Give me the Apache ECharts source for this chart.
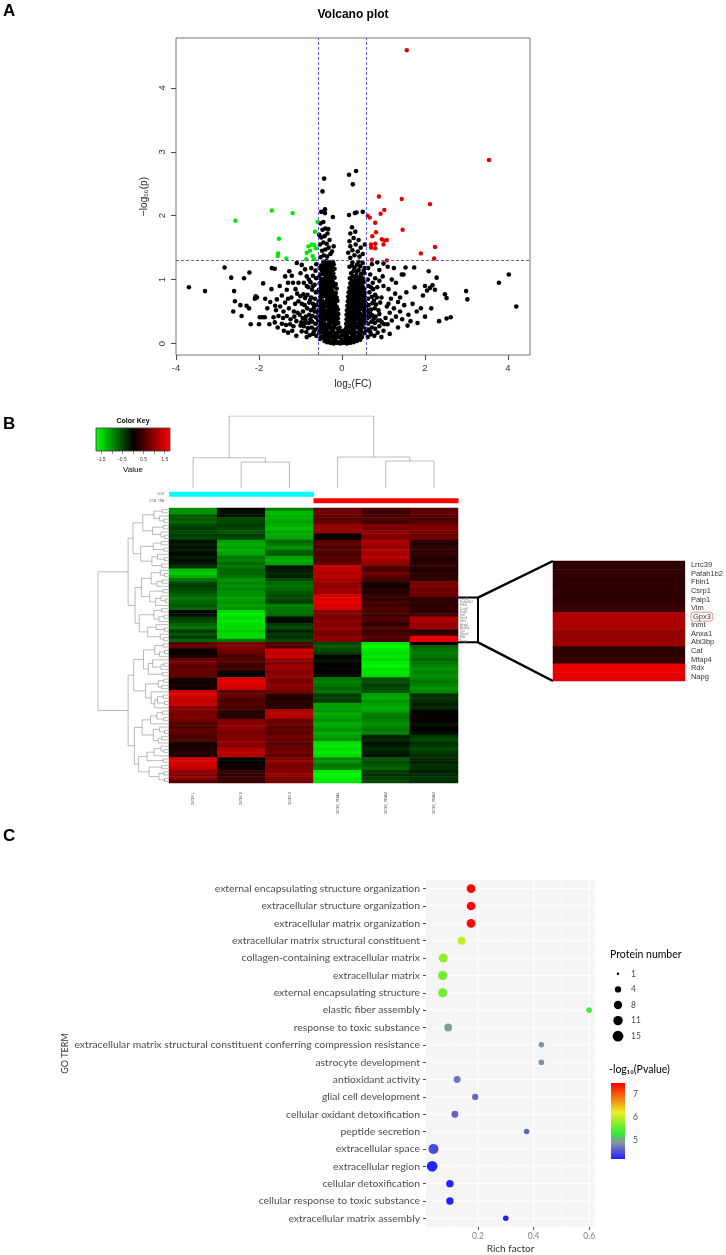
<!DOCTYPE html>
<html>
<head>
<meta charset="utf-8">
<script src="https://cdn.jsdelivr.net/npm/echarts@6/dist/echarts.min.js"></script>
<style>
  html, body { margin: 0; padding: 0; background: #fff; }
  #vis { width: 726px; height: 1255px; }
</style>
</head>
<body>
<div id="vis"></div>
<script>
// ---------- A: volcano plot (log2 FC, -log10 p) ----------
const volcanoUp = [[1.56,4.59],[3.54,2.87],[0.89,2.30],[1.44,2.26],[2.12,2.18],[1.02,2.09],[0.93,2.03],
  [0.62,2.0],[0.67,1.97],[0.8,1.89],[1.46,1.78],[0.82,1.74],[0.73,1.68],[0.96,1.63],[1.02,1.61],[1.08,1.62],
  [0.7,1.55],[0.8,1.56],[1.0,1.55],[0.7,1.5],[0.8,1.49],[2.24,1.51],[1.9,1.41],[2.22,1.33],[0.72,1.31],[1.08,1.3]];
const volcanoDown = [[-2.57,1.92],[-1.69,2.08],[-1.19,2.04],[-1.52,1.64],[-1.54,1.41],[-1.55,1.37],[-1.34,1.33],
  [-0.59,1.9],[-0.65,1.75],[-0.81,1.52],[-0.73,1.55],[-0.67,1.54],[-0.63,1.49],[-0.85,1.42],[-0.71,1.37],
  [-0.67,1.32],[-0.86,1.32],[-0.77,1.45]];
const volcanoCoreLeft = [
  [-0.42,0.04],[-0.33,0.06],[-0.25,0.03],[-0.17,0.05],[-0.09,0.02],
  [-0.5,0.11],[-0.44,0.09],[-0.36,0.12],[-0.29,0.1],[-0.21,0.11],[-0.13,0.09],[-0.05,0.1],
  [-0.55,0.17],[-0.47,0.18],[-0.4,0.16],[-0.32,0.17],[-0.24,0.19],[-0.16,0.16],[-0.08,0.18],
  [-0.57,0.24],[-0.5,0.25],[-0.42,0.23],[-0.35,0.25],[-0.27,0.24],[-0.19,0.26],[-0.11,0.23],[-0.06,0.25],
  [-0.55,0.31],[-0.47,0.32],[-0.39,0.3],[-0.31,0.31],[-0.23,0.33],[-0.15,0.3],[-0.09,0.32],
  [-0.58,0.38],[-0.5,0.39],[-0.42,0.37],[-0.34,0.38],[-0.26,0.4],[-0.18,0.37],[-0.1,0.39],
  [-0.54,0.45],[-0.46,0.46],[-0.38,0.44],[-0.3,0.45],[-0.22,0.47],[-0.14,0.44],[-0.09,0.46],
  [-0.57,0.52],[-0.49,0.53],[-0.41,0.51],[-0.33,0.52],[-0.25,0.54],[-0.17,0.51],[-0.1,0.53],
  [-0.53,0.59],[-0.45,0.6],[-0.37,0.58],[-0.29,0.59],[-0.21,0.61],[-0.13,0.58],
  [-0.56,0.66],[-0.48,0.67],[-0.4,0.65],[-0.32,0.66],[-0.24,0.68],[-0.16,0.65],[-0.11,0.67],
  [-0.52,0.73],[-0.44,0.74],[-0.36,0.72],[-0.28,0.73],[-0.2,0.75],[-0.13,0.72],
  [-0.55,0.8],[-0.47,0.81],[-0.39,0.79],[-0.31,0.8],[-0.23,0.82],[-0.15,0.79],
  [-0.51,0.87],[-0.43,0.88],[-0.35,0.86],[-0.27,0.87],[-0.19,0.89],[-0.13,0.86],
  [-0.54,0.94],[-0.46,0.95],[-0.38,0.93],[-0.3,0.94],[-0.22,0.96],[-0.15,0.93],
  [-0.5,1.01],[-0.42,1.02],[-0.34,1.0],[-0.26,1.01],[-0.18,1.03],
  [-0.53,1.08],[-0.45,1.09],[-0.37,1.07],[-0.29,1.08],[-0.21,1.1],
  [-0.49,1.15],[-0.41,1.16],[-0.33,1.14],[-0.25,1.15],[-0.18,1.17],
  [-0.5,1.22],[-0.42,1.23],[-0.34,1.21],[-0.26,1.22],[-0.2,1.24],
  [-0.45,1.28],[-0.37,1.29],[-0.29,1.27],[-0.22,1.28],
  [-0.46,0.21],[-0.3,0.28],[-0.14,0.35],[-0.52,0.42],[-0.36,0.49],[-0.2,0.56],[-0.44,0.63],
  [-0.28,0.7],[-0.48,0.77],[-0.34,0.84],[-0.2,0.92],[-0.42,0.98],[-0.3,1.05],[-0.46,1.12],[-0.38,1.19],[-0.3,1.25]];
const volcanoCoreRight = [
  [0.05,0.04],[0.12,0.06],[0.2,0.03],[0.28,0.05],[0.36,0.04],[0.44,0.06],
  [0.07,0.11],[0.16,0.09],[0.24,0.11],[0.32,0.1],[0.4,0.12],[0.48,0.1],
  [0.06,0.17],[0.14,0.18],[0.22,0.16],[0.3,0.18],[0.38,0.17],[0.46,0.19],[0.54,0.16],
  [0.1,0.24],[0.17,0.25],[0.25,0.23],[0.33,0.25],[0.41,0.24],[0.49,0.26],[0.57,0.23],
  [0.1,0.31],[0.18,0.32],[0.26,0.3],[0.34,0.31],[0.42,0.33],[0.5,0.3],[0.58,0.32],
  [0.11,0.38],[0.2,0.39],[0.28,0.37],[0.36,0.38],[0.44,0.4],[0.52,0.37],[0.6,0.39],
  [0.11,0.45],[0.19,0.46],[0.27,0.44],[0.35,0.45],[0.43,0.47],[0.51,0.44],[0.58,0.46],
  [0.12,0.52],[0.21,0.53],[0.29,0.51],[0.37,0.52],[0.45,0.54],[0.53,0.51],[0.6,0.53],
  [0.13,0.59],[0.22,0.6],[0.3,0.58],[0.38,0.59],[0.46,0.61],[0.54,0.58],
  [0.14,0.66],[0.23,0.67],[0.31,0.65],[0.39,0.66],[0.47,0.68],[0.55,0.65],
  [0.15,0.73],[0.24,0.74],[0.32,0.72],[0.4,0.73],[0.48,0.75],[0.56,0.72],
  [0.16,0.8],[0.25,0.81],[0.33,0.79],[0.41,0.8],[0.49,0.82],[0.55,0.79],
  [0.18,0.87],[0.26,0.88],[0.34,0.86],[0.42,0.87],[0.5,0.89],
  [0.2,0.94],[0.28,0.95],[0.36,0.93],[0.44,0.94],[0.52,0.96],
  [0.19,1.02],[0.3,1.03],[0.41,1.01],[0.5,1.02],
  [0.22,1.1],[0.35,1.12],[0.46,1.09],
  [0.18,1.2],[0.3,1.19],[0.44,1.21],[0.55,1.18],
  [0.25,1.27],[0.4,1.28],[0.5,1.26],
  [0.2,0.21],[0.36,0.28],[0.52,0.35],[0.16,0.42],[0.32,0.49],[0.48,0.56],[0.26,0.63],
  [0.44,0.7],[0.2,0.77],[0.37,0.84],[0.24,0.91],[0.46,0.98],[0.26,1.06],[0.4,1.15],[0.53,1.1]];
const volcanoCoreFill = [
  [-0.53,0.07],[-0.38,0.08],[-0.21,0.07],[-0.43,0.14],[-0.27,0.14],[-0.11,0.13],[-0.52,0.21],[-0.37,0.2],
  [-0.22,0.21],[-0.08,0.22],[-0.51,0.28],[-0.43,0.27],[-0.35,0.29],[-0.19,0.29],[-0.56,0.35],[-0.46,0.35],
  [-0.3,0.35],[-0.22,0.36],[-0.46,0.41],[-0.38,0.41],[-0.3,0.42],[-0.21,0.42],[-0.13,0.41],[-0.58,0.48],
  [-0.5,0.49],[-0.42,0.48],[-0.26,0.48],[-0.18,0.49],[-0.53,0.55],[-0.45,0.56],[-0.29,0.56],[-0.13,0.55],
  [-0.57,0.62],[-0.49,0.63],[-0.33,0.62],[-0.25,0.63],[-0.17,0.62],[-0.52,0.7],[-0.36,0.69],[-0.2,0.7],
  [-0.4,0.76],[-0.32,0.77],[-0.24,0.77],[-0.17,0.76],[-0.56,0.84],[-0.42,0.84],[-0.27,0.83],[-0.49,0.91],
  [-0.39,0.9],[-0.31,0.91],[-0.24,0.9],[-0.5,0.97],[-0.34,0.97],[-0.26,0.98],[-0.55,1.04],[-0.38,1.04],
  [-0.22,1.05],[-0.41,1.11],[-0.33,1.11],[-0.25,1.12],[-0.54,1.18],[-0.46,1.19],[-0.29,1.18],[-0.38,1.25],
  [-0.24,1.21],
  [0.08,0.07],[0.24,0.07],[0.4,0.08],[0.12,0.14],[0.28,0.14],[0.44,0.13],[0.28,0.21],[0.44,0.21],[0.58,0.2],
  [0.13,0.28],[0.21,0.28],[0.29,0.27],[0.45,0.28],[0.14,0.35],[0.22,0.35],[0.3,0.34],[0.46,0.35],[0.24,0.41],
  [0.32,0.42],[0.4,0.42],[0.48,0.41],[0.56,0.42],[0.15,0.49],[0.23,0.48],[0.4,0.49],[0.55,0.48],[0.17,0.56],
  [0.25,0.55],[0.33,0.56],[0.41,0.55],[0.57,0.56],[0.18,0.63],[0.34,0.62],[0.42,0.63],[0.5,0.62],[0.58,0.62],
  [0.19,0.7],[0.27,0.69],[0.35,0.7],[0.52,0.69],[0.28,0.77],[0.36,0.76],[0.44,0.77],[0.52,0.76],[0.22,0.84],
  [0.3,0.83],[0.45,0.84],[0.53,0.85],[0.3,0.91],[0.38,0.9],[0.46,0.91],[0.24,0.98],[0.32,0.99],[0.4,0.97],
  [0.35,1.06],[0.45,1.05],[0.28,1.14],[0.52,1.14],[0.36,1.23],[0.24,1.22]];
const volcanoBase = [[-0.28,0.01],[-0.2,0.0],[-0.12,0.01],[-0.04,0.0],[0.04,0.01],[0.12,0.0],[0.2,0.01],
  [-0.36,0.02],[0.28,0.02],[-0.01,0.06],[0.0,0.13],[-0.02,0.19],[0.03,0.2]];
const volcanoMidHigh = [[-0.52,1.35],[-0.44,1.38],[-0.36,1.36],[-0.28,1.4],[-0.48,1.45],[-0.4,1.47],[-0.32,1.5],
  [-0.24,1.44],[-0.53,1.55],[-0.45,1.58],[-0.37,1.56],[-0.3,1.62],[-0.5,1.66],[-0.42,1.68],[-0.35,1.72],
  [-0.47,1.78],[-0.4,1.8],[-0.33,1.79],[-0.52,1.88],[-0.45,1.9],[-0.22,1.98],[-0.5,2.06],[-0.41,2.1],
  [-0.41,2.04],[-0.47,2.38],[-0.43,2.58],[-0.55,1.7],[-0.2,1.52],
  [0.2,1.34],[0.3,1.38],[0.42,1.36],[0.15,1.42],[0.25,1.46],[0.38,1.44],[0.5,1.4],[0.2,1.52],[0.33,1.55],
  [0.45,1.5],[0.18,1.6],[0.28,1.65],[0.4,1.62],[0.2,1.72],[0.32,1.75],[0.24,1.82],[0.17,2.01],[0.31,2.04],
  [0.35,2.05],[0.5,2.06],[0.26,2.49],[0.17,2.64],[0.34,2.7],[0.55,1.55]];
const volcanoLeftCloud = [[-0.62,0.12],[-0.7,0.15],[-0.78,0.13],[-0.86,0.18],[-0.65,0.22],[-0.73,0.25],
  [-0.82,0.24],[-0.92,0.27],[-0.64,0.31],[-0.72,0.34],[-0.8,0.32],[-0.88,0.36],[-0.98,0.33],[-0.63,0.41],
  [-0.71,0.43],[-0.79,0.45],[-0.87,0.42],[-0.66,0.5],[-0.75,0.52],[-0.84,0.55],[-0.94,0.5],[-0.62,0.6],
  [-0.7,0.62],[-0.79,0.64],[-0.9,0.6],[-0.65,0.7],[-0.74,0.72],[-0.83,0.76],[-0.63,0.8],[-0.72,0.84],
  [-0.81,0.88],[-0.66,0.92],[-0.76,0.96],[-0.62,1.02],[-0.7,1.06],[-0.64,1.14],[-0.74,1.18],[-0.62,1.24],
  [-0.85,1.05],[-0.89,0.71],[-0.97,0.62],[-1.02,0.45],[-1.05,0.66],[-1.0,0.74],[-0.93,0.77],[-0.97,0.19],
  [-0.85,0.1],[-0.95,0.4],[-1.1,0.35],[-1.73,0.65],[-1.61,0.59],[-1.57,0.69],[-1.59,0.52],[-1.49,0.58],
  [-1.37,0.64],[-1.41,0.5],[-1.33,0.43],[-1.53,0.43],[-1.65,0.41],[-1.45,0.31],[-1.35,0.29],[-1.24,0.38],
  [-1.17,0.27],[-1.07,0.48],[-0.89,0.32],[-1.16,0.5],[-1.13,0.62],[-1.33,0.84],[-1.37,1.05],[-1.27,1.13],
  [-1.21,1.06],[-1.09,1.26],[-0.97,1.23],[-0.89,1.16],[-0.85,0.9],[-1.2,0.2],[-1.28,0.55],[-1.22,0.72],
  [-1.12,0.85],[-1.05,0.95],[-1.18,0.95],[-1.45,0.75],[-1.3,0.95],[-1.5,0.9],[-1.62,1.17],[-1.69,1.18],
  [-1.9,0.94],[-1.98,0.41],[-1.92,0.41],[-1.86,0.41],[-2.1,0.7],[-2.08,0.74],[-2.05,0.72],[-2.3,0.59],
  [-2.24,0.55],[-2.42,0.43],[-2.62,0.5],[-2.6,0.82],[-2.36,1.02],[-2.23,1.11],[-2.67,1.03],[-2.83,1.19],
  [-3.3,0.82],[-3.69,0.88],[-1.8,0.55],[-1.75,0.3],[-1.55,0.25],[-1.4,0.2],[-1.3,0.17],[-1.1,0.12],
  [-2.0,0.3],[-1.85,0.7],[-1.7,0.85],[-2.2,0.3],[-2.45,0.6],[-2.58,0.66],
  [-0.68,0.18],[-0.76,0.38],[-0.68,0.56],[-0.77,0.68],[-0.7,0.9],[-0.8,1.0],[-1.0,0.28],[-1.15,0.42],
  [-1.25,0.3],[-1.08,0.78],[-0.92,0.95],[-1.0,1.1],[-1.42,0.4],[-1.62,0.33],[-1.3,0.7]];
const volcanoRightCloud = [[0.62,0.1],[0.7,0.14],[0.78,0.12],[0.86,0.17],[0.64,0.22],[0.72,0.25],[0.8,0.23],
  [0.9,0.27],[0.63,0.31],[0.71,0.34],[0.79,0.32],[0.87,0.36],[0.96,0.33],[0.65,0.41],[0.73,0.44],[0.81,0.42],
  [0.9,0.46],[0.62,0.5],[0.7,0.53],[0.79,0.55],[0.88,0.52],[0.64,0.6],[0.73,0.63],[0.82,0.61],[0.92,0.64],
  [0.63,0.7],[0.72,0.73],[0.8,0.76],[0.66,0.8],[0.75,0.85],[0.64,0.9],[0.74,0.95],[0.62,1.0],[0.68,1.08],
  [0.63,1.18],[0.72,1.24],[0.85,0.88],[0.95,0.72],[1.0,0.2],[1.05,0.4],[1.08,0.58],[1.0,0.9],[0.98,1.05],
  [0.9,1.15],[0.85,1.27],[1.1,0.3],[1.15,0.48],[1.2,0.36],[1.25,0.55],[1.3,0.42],[1.18,0.7],[1.28,0.78],
  [1.12,0.85],[1.35,0.65],[1.4,0.5],[1.45,0.38],[1.5,0.6],[1.44,1.08],[1.48,1.08],[1.53,1.19],[1.74,1.19],
  [1.3,0.95],[1.2,1.0],[1.55,0.8],[1.6,0.45],[1.65,0.35],[1.7,0.62],[1.75,0.88],[1.8,0.5],[1.9,0.55],
  [1.95,0.75],[2.0,0.9],[2.09,1.13],[2.28,1.03],[2.05,0.83],[2.12,0.87],[2.18,0.91],[2.24,0.84],[2.48,0.77],
  [2.52,0.71],[2.34,0.35],[2.52,0.39],[2.62,0.41],[2.99,0.82],[3.02,0.69],[3.78,0.95],[4.02,1.08],[4.2,0.58],
  [1.35,0.25],[1.58,0.28],[1.82,0.32],[2.0,0.42],[2.15,0.55],[1.1,1.2],[1.0,1.25],[1.25,1.18],[0.95,0.1],
  [1.15,0.15],[1.4,0.72],
  [0.68,0.18],[0.76,0.38],[0.68,0.47],[0.77,0.67],[0.7,0.88],[0.8,1.02],[1.02,0.3],[0.84,0.72],
  [0.9,0.98],[1.12,0.62],[0.92,0.36]];
const fcCut = 0.585;       // |log2 FC| threshold
const pCut = 1.301;        // -log10(0.05)
const volcanoXTicks = [-4, -2, 0, 2, 4];
const volcanoYTicks = [0, 1, 2, 3, 4];

// ---------- B: heatmap (z-scores, rows x 6 samples) ----------
const sampleNames = ['DCM 1', 'DCM 2', 'DCM 3', 'DCM_TRA1', 'DCM_TRA2', 'DCM_TRA3'];
const groupNames = ['DCM', 'DCM_TRA'];
const sampleGroup = [0, 0, 0, 1, 1, 1];
const groupColors = ['#00ffff', '#ff0000'];
const heatRows = [
  [-1.0,-0.05,-0.9,0.7,0.5,0.6],[-1.0,-0.1,-1.3,0.8,0.4,0.7],[-0.6,-0.1,-1.2,0.7,0.5,0.6],
  [-0.6,-0.5,-1.2,0.6,0.6,0.5],[-0.7,-0.5,-1.1,0.7,0.4,0.6],[-0.5,-0.4,-1.2,1.0,0.9,0.8],
  [-0.4,-0.5,-1.3,1.0,0.8,0.9],[-0.5,-0.6,-1.1,1.0,1.0,0.8],[-0.4,-0.4,-1.2,0.05,0.9,0.7],
  [-0.5,-0.5,-1.1,0.1,0.9,0.8],[-0.1,-1.1,-0.7,0.6,1.2,0.3],[-0.2,-1.2,-0.8,0.7,1.1,0.2],
  [-0.1,-1.1,-1.0,0.5,1.0,0.35],[-0.15,-1.2,-0.7,0.6,1.2,0.3],[-0.05,-1.1,-0.6,0.5,1.1,0.4],
  [-0.2,-0.8,-1.1,0.6,1.3,0.25],[-0.1,-0.9,-1.2,0.55,1.1,0.2],[-0.2,-0.7,-1.1,0.7,1.0,0.3],
  [-0.3,-0.8,-0.1,1.3,0.6,0.3],[-1.3,-0.7,-0.2,1.3,0.5,0.2],[-1.4,-0.7,-0.3,1.2,0.8,0.35],
  [-1.2,-0.8,-0.2,1.3,0.6,0.3],[-0.8,-1.0,-0.5,1.1,0.5,0.3],[-0.5,-0.9,-0.7,1.0,0.2,0.8],
  [-0.4,-1.0,-0.8,1.0,0.1,0.9],[-0.5,-0.9,-0.7,1.1,0.3,0.7],[-0.6,-1.0,-0.6,1.0,0.2,0.8],
  [-0.7,-1.0,-0.5,1.5,0.4,0.7],[-0.8,-1.1,-0.5,1.5,0.3,0.3],[-0.7,-1.0,-0.4,1.6,0.5,0.35],
  [-0.6,-1.1,-0.9,1.5,0.4,0.3],[-0.7,-1.0,-0.8,1.5,0.6,0.35],[0.0,-1.5,-0.8,0.9,0.5,0.3],
  [-0.1,-1.6,-0.7,0.9,0.4,0.4],[-0.4,-1.5,-0.1,0.8,0.6,1.2],[-0.5,-1.6,-0.05,1.0,0.5,1.2],
  [-0.7,-1.5,-0.4,0.9,0.3,1.0],[-0.8,-1.5,-0.5,1.0,0.6,1.05],[-0.4,-1.4,-0.2,0.9,0.4,0.3],
  [-0.6,-1.5,-0.4,0.8,0.5,0.35],[-0.4,-1.5,-0.3,1.0,0.6,1.6],[-0.7,-0.8,-0.5,0.9,0.5,1.55],
  [0.6,0.8,0.6,-0.5,-1.6,0.0],[0.7,0.9,0.5,-0.6,-1.7,-0.7],[0.1,0.8,1.4,-0.5,-1.6,-0.8],
  [0.05,0.7,1.3,-0.4,-1.5,-0.9],[0.2,0.5,1.4,0.0,-1.6,-0.8],[0.7,0.6,1.0,-0.1,-1.5,-0.7],
  [0.8,0.5,0.9,0.05,-1.6,-0.8],[0.6,0.4,1.1,0.0,-1.7,-0.9],[0.7,0.5,1.0,-0.05,-1.5,-1.0],
  [0.65,0.05,0.9,0.0,-1.6,-0.9],[0.7,0.0,1.0,-0.1,-1.5,-1.0],[0.15,1.5,0.9,-0.8,-0.5,-0.9],
  [0.1,1.6,0.8,-0.9,-0.6,-0.8],[0.2,1.5,1.0,-0.8,-0.4,-0.9],[0.1,1.4,0.9,-0.7,-0.5,-1.0],
  [1.4,0.6,0.8,-0.8,-0.6,-0.9],[1.5,0.7,0.3,-0.4,-1.1,-0.3],[1.4,0.6,0.2,-0.5,-1.2,-0.4],
  [1.3,0.5,0.3,-0.4,-1.0,-0.3],[1.4,0.6,0.25,-1.1,-1.1,-0.2],[0.9,0.5,0.3,-1.1,-1.2,-0.3],
  [0.9,0.3,1.2,-1.0,-1.1,0.0],[0.8,0.3,1.3,-1.2,-0.9,-0.05],[0.9,0.2,1.2,-1.1,-0.8,0.1],
  [0.8,0.9,0.7,-1.0,-0.9,0.0],[0.6,0.9,0.8,-1.2,-1.0,-0.1],[0.5,1.0,0.6,-1.1,-0.9,0.05],
  [0.7,0.9,0.7,-1.0,-0.8,0.0],[0.6,0.8,0.6,-1.2,-0.9,-0.1],[0.5,0.9,0.8,-1.1,-0.2,-0.4],
  [0.6,0.9,0.7,-1.0,-0.3,-0.5],[0.2,1.0,0.6,-1.5,-0.1,-0.3],[0.15,0.9,0.7,-1.6,-0.2,-0.4],
  [0.2,1.2,0.7,-1.5,-0.3,-0.5],[0.25,1.3,0.8,-1.6,-0.2,-0.4],[0.2,1.2,0.6,-1.5,-0.1,-0.3],
  [1.4,0.05,0.9,-0.9,-0.6,-0.3],[1.5,0.0,1.0,-1.0,-0.5,-0.2],[1.4,0.1,0.8,-0.8,-0.6,-0.35],
  [1.3,0.05,0.9,-0.9,-0.7,-0.3],[1.0,0.4,0.9,-1.6,-0.4,-0.2],[0.9,0.3,1.0,-1.7,-0.3,-0.3],
  [1.0,0.4,0.9,-1.6,-0.4,-0.35],[0.6,0.4,0.8,-1.6,-0.5,-0.3]];
// merge height between neighbouring leaves (row tree, col tree)
const rowGaps = [0.8,2.0,1.2,0.6,3.6,0.7,2.2,1.0,0.5,5.0, 1.0,2.1,0.6,3.9,1.5,0.5,2.3,0.9,5.7,1.1,
  0.5,2.4,0.8,1.6,3.8,0.7,2.6,1.0,0.4,1.8, 4.7,0.9,2.0,0.6,1.3,4.1,1.7,0.5,2.9,1.1,
  0.6,10,0.7,1.9,0.5,1.2,3.5,2.2,0.6,1.0, 2.8,0.8,4.9,0.6,1.4,0.9,3.2,2.4,0.7,1.5,
  0.5,1.9,5.7,0.8,1.6,0.6,2.5,3.7,1.2,0.5, 2.1,0.9,1.4,4.8,1.0,0.6,2.0,3.0,0.7,4.2,
  0.9,2.7,0.6,1.3,0.5];
const colGaps = [4.2, 3.6, 10, 4.3, 3.75];
const insetGenes = ['Lrrc39','Pafah1b2','Fbln1','Csrp1','Paip1','Vim','Gpx3','Inmt','Anxa1','Abi3bp','Cat','Mfap4','Rdx','Napg'];
const insetStart = 28;
const insetCol = 5;
const heatMin = -1.75, heatMax = 1.75;
const heatPalette = ['#00ff00', '#000000', '#ff0000'];
const keyTicks = [-1.5, -1, -0.5, 0, 0.5, 1, 1.5];
const keyLabels = [-1.5, -0.5, 0.5, 1.5];

// ---------- C: GO enrichment bubbles ----------
const goTerms = ['external encapsulating structure organization','extracellular structure organization',
  'extracellular matrix organization','extracellular matrix structural constituent',
  'collagen-containing extracellular matrix','extracellular matrix','external encapsulating structure',
  'elastic fiber assembly','response to toxic substance',
  'extracellular matrix structural constituent conferring compression resistance','astrocyte development',
  'antioxidant activity','glial cell development','cellular oxidant detoxification','peptide secretion',
  'extracellular space','extracellular region','cellular detoxification','cellular response to toxic substance',
  'extracellular matrix assembly'];
const goRich = [0.175,0.175,0.175,0.141,0.075,0.073,0.073,0.6,0.093,0.428,0.428,0.125,0.19,0.117,0.375,0.04,0.035,0.099,0.099,0.3];
const goCount = [9,9,9,7,10,10,10,3,7,3,3,5,4,5,3,13,15,6,6,3];
const goLogP = [7.45,7.45,7.45,6.0,5.75,5.6,5.6,5.35,4.95,4.85,4.85,4.7,4.65,4.6,4.6,4.45,4.2,4.18,4.18,4.17];
const goSizeBreaks = [1, 4, 8, 11, 15];
const goColorStops = [[4.17,'#1f1fff'],[4.9,'#8a96a0'],[5.3,'#33ee33'],[6.2,'#eeee22'],[7.48,'#ff0000']];
const goXTicks = [0.2, 0.4, 0.6];
const goMinorX = [0.1, 0.3, 0.5];
const goColorTicks = [5, 6, 7];

// ---------- helpers ----------
function buildTree(gaps, a, b, segs) {
  if (a === b) return { pos: a + 0.5, h: 0 };
  let k = a;
  for (let i = a; i < b; i++) if (gaps[i] > gaps[k]) k = i;
  const l = buildTree(gaps, a, k, segs);
  const r = buildTree(gaps, k + 1, b, segs);
  const h = gaps[k];
  segs.push([[l.pos, l.h], [l.pos, h], [r.pos, h], [r.pos, r.h]]);
  return { pos: (l.pos + r.pos) / 2, h };
}
function hexRgb(h) { return [1, 3, 5].map(i => parseInt(h.slice(i, i + 2), 16)); }
function goColor(v) {
  const s = goColorStops;
  if (v <= s[0][0]) return s[0][1];
  for (let i = 1; i < s.length; i++) {
    if (v <= s[i][0]) {
      const t = (v - s[i - 1][0]) / (s[i][0] - s[i - 1][0]);
      const a = hexRgb(s[i - 1][1]), b = hexRgb(s[i][1]);
      return 'rgb(' + a.map((c, j) => Math.round(c + (b[j] - c) * t)).join(',') + ')';
    }
  }
  return s[s.length - 1][1];
}
// ggplot scale_size (area) in px
function sizeFor(n) { return 2.5 + 8.2 * Math.sqrt((n - 1) / 14); }

const colSegs = []; buildTree(colGaps, 0, sampleNames.length - 1, colSegs);
const rowSegs = []; buildTree(rowGaps, 0, heatRows.length - 1, rowSegs);
const heatData = heatRows.flatMap((row, r) => row.map((v, c) => [c, r, v]));
const insetData = heatRows.slice(insetStart, insetStart + insetGenes.length).map((row, i) => [0, i, row[insetCol]]);
const rowIds = heatRows.map((_, i) => i);
const rowLabel = i => (i >= insetStart && i < insetStart + insetGenes.length) ? insetGenes[i - insetStart] : '';
const volcanoNS = [].concat(volcanoCoreLeft, volcanoCoreRight, volcanoCoreFill, volcanoBase, volcanoMidHigh,
  volcanoLeftCloud, volcanoRightCloud);

const RF = 'Liberation Sans, Arial, sans-serif';
const GF = 'Lato, Noto Sans, sans-serif';

const grids = [
  { left: 176, top: 38, width: 354, height: 317, show: true, borderColor: '#777', borderWidth: 1 }, // 0 volcano
  { left: 96, top: 428, width: 74, height: 23 },     // 1 colour key
  { left: 169, top: 416, width: 289, height: 72 },   // 2 column tree
  { left: 169, top: 491, width: 289, height: 13 },   // 3 group bars
  { left: 98, top: 508, width: 70, height: 275 },    // 4 row tree
  { left: 169, top: 508, width: 289, height: 275 },  // 5 heatmap
  { left: 553, top: 561, width: 132, height: 120 },  // 6 inset
  { left: 426, top: 880, width: 169, height: 350, show: true, backgroundColor: '#f5f5f5', borderWidth: 0 }, // 7 GO
  { left: 611, top: 966, width: 14, height: 78 },    // 8 size legend
  { left: 611, top: 1083, width: 14, height: 76 }    // 9 colour legend
];
const off = { show: false };
const noLine = { show: false, onZero: false };
function hidden(g, extra) {
  return Object.assign({ gridIndex: g, axisLine: noLine, axisTick: off, axisLabel: off, splitLine: off }, extra);
}

const xAxes = [
  { gridIndex: 0, type: 'value', min: -4.0, max: 4.53, axisLine: noLine, splitLine: off,
    axisTick: { show: true, length: 5, customValues: volcanoXTicks, lineStyle: { color: '#444' } },
    axisLabel: { customValues: volcanoXTicks, fontSize: 9.5, color: '#333', fontFamily: RF, margin: 8 },
    name: 'log\u2082(FC)', nameLocation: 'middle', nameGap: 24, nameTextStyle: { fontSize: 10, color: '#222', fontFamily: RF } },
  { gridIndex: 1, type: 'value', min: heatMin, max: heatMax, axisLine: noLine, splitLine: off,
    axisTick: { show: true, length: 3, customValues: keyTicks, lineStyle: { color: '#444', width: 0.6 } },
    axisLabel: { customValues: keyLabels, fontSize: 5, color: '#333', fontFamily: RF, margin: 6 } },
  hidden(2, { type: 'value', min: 0, max: sampleNames.length }),
  hidden(3, { type: 'category', data: sampleNames }),
  hidden(4, { type: 'value', min: 0, max: 10, inverse: true }),
  { gridIndex: 5, type: 'category', data: sampleNames, axisLine: noLine, axisTick: off, splitLine: off,
    axisLabel: { rotate: 90, fontSize: 4, color: '#555', fontFamily: RF, margin: 9, interval: 0 } },
  hidden(6, { type: 'category', data: ['inset'] }),
  { gridIndex: 7, type: 'value', min: 0.013, max: 0.621, axisLine: noLine, splitLine: off,
    axisTick: { show: true, length: 3, customValues: goXTicks, lineStyle: { color: '#555' } },
    axisLabel: { customValues: goXTicks, fontSize: 8.5, color: '#808080', fontFamily: GF, margin: 5 },
    name: 'Rich factor', nameLocation: 'middle', nameGap: 17, nameTextStyle: { fontSize: 10, color: '#333', fontFamily: GF } },
  hidden(8, { type: 'value', min: 0, max: 1 }),
  hidden(9, { type: 'value', min: 0, max: 1 })
];
const yAxes = [
  { gridIndex: 0, type: 'value', min: -0.18, max: 4.78, axisLine: noLine, splitLine: off,
    axisTick: { show: true, length: 5, customValues: volcanoYTicks, lineStyle: { color: '#444' } },
    axisLabel: { customValues: volcanoYTicks, rotate: 90, fontSize: 9.5, color: '#333', fontFamily: RF, margin: 9 },
    name: '\u2212log\u2081\u2080(p)', nameLocation: 'middle', nameGap: 27, nameRotate: 90,
    nameTextStyle: { fontSize: 10, color: '#222', fontFamily: RF } },
  hidden(1, { type: 'value', min: 0, max: 1 }),
  hidden(2, { type: 'value', min: 0, max: 10 }),
  { gridIndex: 3, type: 'category', data: groupNames, inverse: true, axisLine: noLine, axisTick: off, splitLine: off,
    axisLabel: { fontSize: 3, color: '#666', fontFamily: RF, margin: 5, interval: 0 } },
  hidden(4, { type: 'value', min: 0, max: heatRows.length, inverse: true }),
  { gridIndex: 5, type: 'category', data: rowIds, inverse: true, position: 'right', axisLine: noLine, axisTick: off, splitLine: off,
    axisLabel: { fontSize: 3, color: '#777', fontFamily: RF, margin: 2, interval: 0, formatter: (v, i) => rowLabel(i) } },
  { gridIndex: 6, type: 'category', data: insetGenes, inverse: true, position: 'right', axisLine: noLine, axisTick: off, splitLine: off,
    axisLabel: { fontSize: 7.5, color: '#333', fontFamily: RF, margin: 6, interval: 0,
      formatter: v => v === 'Gpx3' ? '{hl|' + v + '}' : v,
      rich: { hl: { fontSize: 7.5, color: '#333', fontFamily: RF, borderColor: '#e07070', borderWidth: 0.8, borderRadius: 3, padding: [1, 2, 0, 2] } } } },
  { gridIndex: 7, type: 'category', data: goTerms, inverse: true, axisLine: noLine, splitLine: off,
    axisTick: { show: true, length: 3, alignWithLabel: true, lineStyle: { color: '#4d4d4d' } },
    axisLabel: { fontSize: 10.4, color: '#4d4d4d', fontFamily: GF, margin: 6, interval: 0 },
    name: 'GO TERM', nameLocation: 'middle', nameGap: 356, nameRotate: 90,
    nameTextStyle: { fontSize: 9, color: '#333', fontFamily: GF } },
  { gridIndex: 8, type: 'category', data: goSizeBreaks.map(String), inverse: true, position: 'right',
    axisLine: noLine, axisTick: off, splitLine: off,
    axisLabel: { fontSize: 8.5, color: '#4d4d4d', fontFamily: GF, margin: 6, interval: 0 } },
  { gridIndex: 9, type: 'value', min: 4.17, max: 7.48, position: 'right', axisLine: noLine, splitLine: off,
    axisTick: { show: true, inside: true, length: 3, customValues: goColorTicks, lineStyle: { color: '#fff' } },
    axisLabel: { customValues: goColorTicks, fontSize: 8.5, color: '#4d4d4d', fontFamily: GF, margin: 8 } }
];

const treeStyle = { color: '#555', width: 0.8 };
// white panel grid lines for the GO plot (drawn under the bubbles)
function vLine(params, api) {
  const cs = params.coordSys;
  const x = api.coord([api.value(0), 0])[0];
  return { type: 'line', shape: { x1: x, y1: cs.y, x2: x, y2: cs.y + cs.height },
    style: { stroke: '#fff', lineWidth: api.value(1) } };
}
function hLine(params, api) {
  const cs = params.coordSys;
  const y = api.coord([0.3, api.value(0)])[1];
  return { type: 'line', shape: { x1: cs.x, y1: y, x2: cs.x + cs.width, y2: y },
    style: { stroke: '#fff', lineWidth: 1 } };
}
const series = [
  { type: 'scatter', xAxisIndex: 0, yAxisIndex: 0, data: volcanoNS, symbolSize: 4.6, itemStyle: { color: '#000', opacity: 1 }, silent: true },
  { type: 'scatter', xAxisIndex: 0, yAxisIndex: 0, data: volcanoDown, symbolSize: 4.4, itemStyle: { color: '#00e600', opacity: 1 }, silent: true },
  { type: 'scatter', xAxisIndex: 0, yAxisIndex: 0, data: volcanoUp, symbolSize: 4.4, itemStyle: { color: '#e00000', opacity: 1 }, silent: true,
    markLine: { silent: true, symbol: 'none', label: off,
      lineStyle: { color: '#4a4ad0', width: 0.9, type: [3, 2] },
      data: [{ xAxis: -fcCut }, { xAxis: fcCut }, { yAxis: pCut }] } },
  { type: 'custom', xAxisIndex: 1, yAxisIndex: 1, data: [[heatMin, heatMax, 0, 1]], encode: { x: [0, 1], y: [2, 3] },
    renderItem: (params, api) => {
      const p0 = api.coord([api.value(0), api.value(3)]);
      const p1 = api.coord([api.value(1), api.value(2)]);
      return { type: 'rect', shape: { x: p0[0], y: p0[1], width: p1[0] - p0[0], height: p1[1] - p0[1] },
        style: { fill: new echarts.graphic.LinearGradient(0, 0, 1, 0,
          heatPalette.map((c, i) => ({ offset: i / (heatPalette.length - 1), color: c }))), stroke: '#444', lineWidth: 0.5 } };
    } },
  { type: 'lines', coordinateSystem: 'cartesian2d', xAxisIndex: 2, yAxisIndex: 2, polyline: true, silent: true,
    data: colSegs.map(c => ({ coords: c })), lineStyle: treeStyle },
  { type: 'custom', xAxisIndex: 3, yAxisIndex: 3, data: sampleGroup.map((g, i) => [i, g]),
    renderItem: (params, api) => {
      const c = api.coord([api.value(0), api.value(1)]);
      const s = api.size([1, 1]);
      return { type: 'rect', shape: { x: c[0] - s[0] / 2, y: c[1] - s[1] * 0.4, width: s[0] + 0.5, height: s[1] * 0.8 },
        style: { fill: groupColors[api.value(1)] } };
    } },
  { type: 'lines', coordinateSystem: 'cartesian2d', xAxisIndex: 4, yAxisIndex: 4, polyline: true, silent: true,
    data: rowSegs.map(s => ({ coords: s.map(p => [p[1], p[0]]) })), lineStyle: treeStyle },
  { type: 'heatmap', xAxisIndex: 5, yAxisIndex: 5, data: heatData, silent: true, itemStyle: { borderWidth: 0 } },
  { type: 'heatmap', xAxisIndex: 6, yAxisIndex: 6, data: insetData, silent: true, itemStyle: { borderWidth: 0 } },
  { type: 'custom', xAxisIndex: 7, yAxisIndex: 7, z: 1, silent: true,
    data: goMinorX.map(x => [x, 0.6]).concat(goXTicks.map(x => [x, 1.1])), renderItem: vLine },
  { type: 'custom', xAxisIndex: 7, yAxisIndex: 7, z: 1, silent: true,
    data: goTerms.map((t, i) => [i]), renderItem: hLine },
  { type: 'scatter', xAxisIndex: 7, yAxisIndex: 7, z: 3, silent: true,
    data: goTerms.map((t, i) => [goRich[i], t, goCount[i], goLogP[i]]),
    symbolSize: v => sizeFor(v[2]),
    itemStyle: { color: p => goColor(p.data[3]), opacity: 1 } },
  { type: 'scatter', xAxisIndex: 8, yAxisIndex: 8, silent: true,
    data: goSizeBreaks.map(n => [0.5, String(n), n]), symbolSize: v => sizeFor(v[2]), itemStyle: { color: '#000', opacity: 1 } },
  { type: 'custom', xAxisIndex: 9, yAxisIndex: 9, data: [[0, 1, goColorStops[0][0], goColorStops[goColorStops.length - 1][0]]],
    encode: { x: [0, 1], y: [2, 3] },
    renderItem: (params, api) => {
      const lo = api.value(2), hi = api.value(3);
      const p0 = api.coord([api.value(0), hi]);
      const p1 = api.coord([api.value(1), lo]);
      return { type: 'rect', shape: { x: p0[0], y: p0[1], width: p1[0] - p0[0], height: p1[1] - p0[1] },
        style: { fill: new echarts.graphic.LinearGradient(0, 1, 0, 0,
          goColorStops.map(s => ({ offset: (s[0] - lo) / (hi - lo), color: s[1] }))) } };
    } }
];

const chart = echarts.init(document.getElementById('vis'), null, { renderer: 'canvas' });
chart.setOption({
  animation: false,
  backgroundColor: '#fff',
  grid: grids,
  xAxis: xAxes,
  yAxis: yAxes,
  visualMap: [{ type: 'continuous', show: false, min: heatMin, max: heatMax, dimension: 2,
    seriesIndex: [7, 8], inRange: { color: heatPalette } }],
  series
});

// annotation: zoom box + connectors + static texts
const p28 = chart.convertToPixel({ xAxisIndex: 5, yAxisIndex: 5 }, [insetCol, insetStart]);
const pEnd = chart.convertToPixel({ xAxisIndex: 5, yAxisIndex: 5 }, [insetCol, insetStart + insetGenes.length - 1]);
const p4 = chart.convertToPixel({ xAxisIndex: 5, yAxisIndex: 5 }, [insetCol - 1, insetStart]);
const cellW = p28[0] - p4[0];
const cellH = (pEnd[1] - p28[1]) / (insetGenes.length - 1);
const bx = p28[0] - cellW / 2, by = p28[1] - cellH / 2, bh = cellH * insetGenes.length;
const bw = cellW + 20;
const ig = grids[6];
function txt(text, x, y, size, weight, align, font) {
  return { type: 'text', x, y, silent: true,
    style: { text, fontSize: size, fontWeight: weight || 'normal', fontFamily: font || RF, fill: '#000',
      textAlign: align || 'left', textVerticalAlign: 'middle' } };
}
chart.setOption({
  graphic: [
    { type: 'rect', shape: { x: bx, y: by, width: bw, height: bh }, style: { fill: 'none', stroke: '#000', lineWidth: 2 } },
    { type: 'line', shape: { x1: bx + bw, y1: by, x2: ig.left, y2: ig.top }, style: { stroke: '#000', lineWidth: 2.5 } },
    { type: 'line', shape: { x1: bx + bw, y1: by + bh, x2: ig.left, y2: ig.top + ig.height }, style: { stroke: '#000', lineWidth: 2.5 } },
    txt('A', 3, 11, 17, 'bold'),
    txt('B', 3, 424, 17, 'bold'),
    txt('C', 3, 836, 17, 'bold'),
    txt('Volcano plot', 353, 15, 12, 'bold', 'center'),
    txt('Color Key', 133, 421, 7, 'bold', 'center'),
    txt('Value', 133, 470, 8, 'normal', 'center'),
    txt('Protein number', 610, 955, 10.5, 'normal', 'left', GF),
    txt('-log\u2081\u2080(Pvalue)', 609, 1070, 10.5, 'normal', 'left', GF)
  ]
});
</script>
</body>
</html>
